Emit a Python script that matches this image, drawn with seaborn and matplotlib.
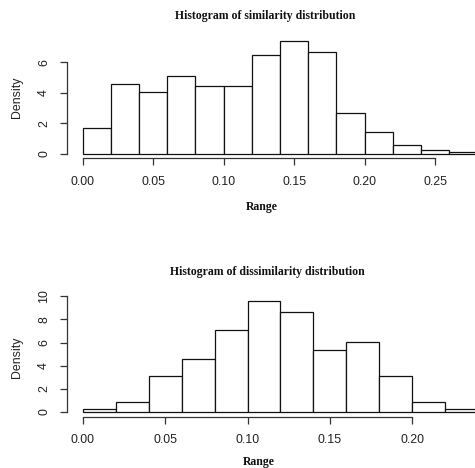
import numpy as np
import pandas as pd
import seaborn as sns
import matplotlib
matplotlib.use("Agg")
import matplotlib.pyplot as plt

sns.set_style("white")
plt.rcParams["font.family"] = ["Liberation Sans", "DejaVu Sans"]

# Bin edges (width 0.02) and densities per bin
sim_edges = [0.00, 0.02, 0.04, 0.06, 0.08, 0.10, 0.12, 0.14, 0.16, 0.18, 0.20, 0.22, 0.24, 0.26, 0.28]
sim_density = [1.71, 4.56, 4.06, 5.11, 4.47, 4.47, 6.47, 7.41, 6.64, 2.65, 1.43, 0.57, 0.26, 0.13]

dis_edges = [0.00, 0.02, 0.04, 0.06, 0.08, 0.10, 0.12, 0.14, 0.16, 0.18, 0.20, 0.22, 0.24]
dis_density = [0.26, 0.89, 3.14, 4.57, 7.09, 9.63, 8.63, 5.37, 6.09, 3.14, 0.86, 0.26]

sim_xticks = [0.00, 0.05, 0.10, 0.15, 0.20, 0.25]
sim_yticks = [0, 2, 4, 6]
dis_xticks = [0.00, 0.05, 0.10, 0.15, 0.20]
dis_yticks = [0, 2, 4, 6, 8, 10]

W, H = 475, 468
fig = plt.figure(figsize=(W / 100, H / 100), dpi=100)
fig.patch.set_facecolor("white")

txt = "#222222"
tick_fs = 8.9
title_fs = 8.5


def px_axes(left, top, right, bottom):
    return fig.add_axes([left / W, 1 - bottom / H, (right - left) / W, (bottom - top) / H])


def draw_hist(ax, edges, density, xticks, yticks, xlim, ylim):
    e = np.asarray(edges)
    mids = list((e[:-1] + e[1:]) / 2)
    df = pd.DataFrame({"x": mids, "w": list(density)})
    sns.histplot(data=df, x="x", weights="w", bins=list(edges), stat="count",
                 color="white", edgecolor="#111111", linewidth=0.9, alpha=1,
                 ax=ax)
    ax.set_xlim(*xlim)
    ax.set_ylim(*ylim)
    ax.set_xlabel("")
    ax.set_ylabel("")
    for s in ["top", "right"]:
        ax.spines[s].set_visible(False)
    for s in ["left", "bottom"]:
        ax.spines[s].set_color("#333333")
        ax.spines[s].set_linewidth(0.9)
    ax.spines["left"].set_bounds(yticks[0], yticks[-1])
    ax.spines["bottom"].set_bounds(xticks[0], xticks[-1])
    ax.set_xticks(xticks)
    ax.set_xticklabels([f"{v:.2f}" for v in xticks])
    ax.set_yticks(yticks)
    ax.set_yticklabels([str(v) for v in yticks], rotation=90, va="center")
    ax.tick_params(axis="both", direction="out", length=5, width=0.9,
                   color="#333333", labelcolor=txt, labelsize=tick_fs,
                   bottom=True, left=True)
    ax.tick_params(axis="x", pad=7.5)
    ax.tick_params(axis="y", pad=7)
    ax.set_facecolor("white")
    ax.grid(False)


# Similarity panel
ax1 = px_axes(66.9, 36.1, 475, 158.3)
draw_hist(ax1, sim_edges, sim_density, sim_xticks, sim_yticks,
          (-0.0112, (475 - 82.7) / 1410), (-0.296, 7.71))

# Dissimilarity panel
ax2 = px_axes(66.9, 296.1, 475, 416.5)
draw_hist(ax2, dis_edges, dis_density, dis_xticks, dis_yticks,
          (-0.0096, (475 - 82.7) / 1648), (-0.385, 10.015))

title_kw = dict(family=["Liberation Serif", "DejaVu Serif"], weight="bold",
                ha="center", va="center", color="#111111")
fig.text(265.5 / W, 1 - 16 / H, "Histogram of similarity distribution", fontsize=title_fs, **title_kw)
fig.text(262 / W, 1 - 207 / H, "Range", fontsize=title_fs, **title_kw)
fig.text(267.5 / W, 1 - 272.5 / H, "Histogram of dissimilarity distribution", fontsize=title_fs, **title_kw)
fig.text(259 / W, 1 - 461.5 / H, "Range", fontsize=title_fs, **title_kw)

fig.text(16.5 / W, 1 - 97 / H, "Density", rotation=90, ha="center", va="center",
         fontsize=tick_fs, color=txt)
fig.text(16.5 / W, 1 - 357 / H, "Density", rotation=90, ha="center", va="center",
         fontsize=tick_fs, color=txt)

fig.savefig("out.png", dpi=100, facecolor="white")
